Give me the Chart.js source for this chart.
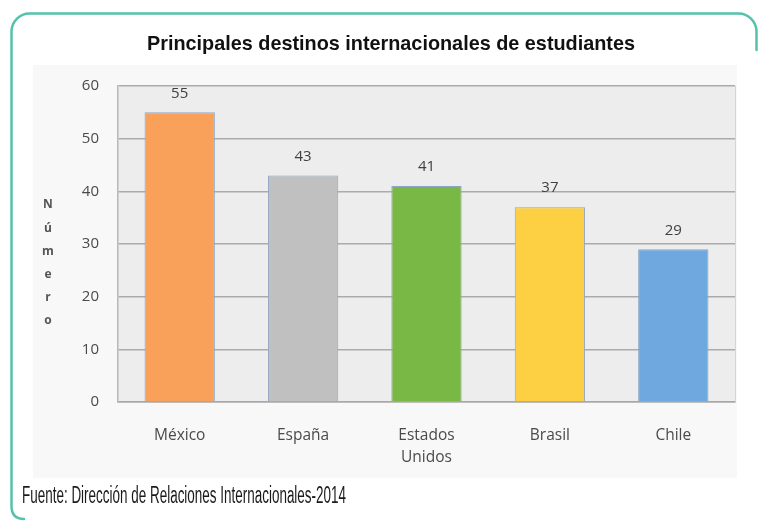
<!DOCTYPE html>
<html>
<head>
<meta charset="utf-8">
<script src="https://cdn.jsdelivr.net/npm/chart.js@4/dist/chart.umd.min.js"></script>
<style>
html,body{margin:0;padding:0;background:#fff;}
#wrap{width:762px;height:521px;position:relative;}
</style>
</head>
<body>
<div id="wrap"><canvas id="c" width="762" height="521"></canvas></div>
<script>
const categories = [["México"], ["España"], ["Estados", "Unidos"], ["Brasil"], ["Chile"]];
const values = [55, 43, 41, 37, 29];
const barColors = ["#f9a05a", "#c0c0c0", "#79b845", "#fdd043", "#6ea8de"];
const yTicks = [0, 10, 20, 30, 40, 50, 60];
const titleText = "Principales destinos internacionales de estudiantes";
const yTitle = "Número";
const sourceText = "Fuente: Dirección de Relaciones Internacionales-2014";

const framePlugin = {
  id: 'frame',
  beforeDraw(chart) {
    const ctx = chart.ctx, a = chart.chartArea;
    ctx.save();
    ctx.fillStyle = '#ffffff';
    ctx.fillRect(0, 0, chart.width, chart.height);
    // excel chart area
    ctx.fillStyle = '#f8f8f8';
    ctx.fillRect(33, 65, 704, 413);
    // plot area
    ctx.fillStyle = '#ededed';
    ctx.fillRect(a.left, a.top, a.right - a.left, a.bottom - a.top);
    ctx.restore();
  },
  afterDraw(chart) {
    const ctx = chart.ctx, a = chart.chartArea;
    ctx.save();
    // right border of plot
    ctx.strokeStyle = '#d4d4d4';
    ctx.lineWidth = 1;
    ctx.beginPath();
    ctx.moveTo(a.right + 0.5, a.top);
    ctx.lineTo(a.right + 0.5, a.bottom);
    ctx.stroke();
    // teal frame (open on right and bottom)
    ctx.strokeStyle = '#55c2ab';
    ctx.lineWidth = 2.5;
    ctx.lineCap = 'round';
    const r = 18;
    ctx.beginPath();
    ctx.moveTo(756.5, 50);
    ctx.lineTo(756.5, 13.5 + r);
    ctx.arcTo(756.5, 13.5, 756.5 - r, 13.5, r);
    ctx.lineTo(11.5 + r, 13.5);
    ctx.arcTo(11.5, 13.5, 11.5, 13.5 + r, r);
    ctx.lineTo(11.5, 506);
    ctx.quadraticCurveTo(11.5, 519, 24, 519);
    ctx.stroke();
    // title
    ctx.fillStyle = '#111111';
    ctx.font = 'bold 21px "Liberation Sans Narrow", "Liberation Sans", sans-serif';
    ctx.textAlign = 'center';
    ctx.textBaseline = 'middle';
    ctx.fillText(titleText, 391, 44, 488);
    // source
    ctx.fillStyle = '#1a1a1a';
    ctx.font = '23px "Liberation Sans Narrow", "Liberation Sans", sans-serif';
    ctx.textAlign = 'left';
    ctx.fillText(sourceText, 22, 497, 324);
    // y title stacked letters
    ctx.fillStyle = '#555555';
    ctx.font = 'bold 12px "Open Sans", sans-serif';
    ctx.textAlign = 'center';
    const letters = Array.from(yTitle);
    letters.forEach((ch, i) => ctx.fillText(ch, 48, 205 + i * 23.2));
    // data labels
    const meta = chart.getDatasetMeta(0);
    ctx.fillStyle = '#404040';
    ctx.font = '15px "Open Sans", sans-serif';
    meta.data.forEach((bar, i) => {
      ctx.fillText(String(values[i]), bar.x, bar.y - 19);
    });
    ctx.restore();
  }
};

new Chart(document.getElementById('c'), {
  type: 'bar',
  data: {
    labels: categories,
    datasets: [{
      data: values,
      backgroundColor: barColors,
      borderColor: '#8ea6c6',
      borderWidth: 1,
      barPercentage: 0.57,
      categoryPercentage: 1
    }]
  },
  options: {
    responsive: false,
    animation: false,
    devicePixelRatio: 1,
    layout: { padding: { left: 68, right: 27, top: 86, bottom: 49 } },
    plugins: { legend: { display: false }, tooltip: { enabled: false }, title: { display: false } },
    scales: {
      x: {
        afterFit(s) { s.height = 70; },
        grid: { display: false },
        border: { display: true, color: '#a8a8a8', width: 1.5 },
        ticks: { color: '#4a4a4a', font: { family: '"Open Sans", sans-serif', size: 15.5, lineHeight: 1.45 }, padding: 14, maxRotation: 0, autoSkip: false }
      },
      y: {
        min: 0, max: 60,
        afterFit(s) { s.width = 50; },
        afterBuildTicks(s) { s.ticks = yTicks.map(v => ({ value: v })); },
        grid: { color: '#ababab', lineWidth: 1.5, drawTicks: false },
        border: { display: true, color: '#b8b8b8', width: 1.5 },
        ticks: { color: '#4a4a4a', font: { family: '"Open Sans", sans-serif', size: 15 }, padding: 19 }
      }
    }
  },
  plugins: [framePlugin]
});
</script>
</body>
</html>
